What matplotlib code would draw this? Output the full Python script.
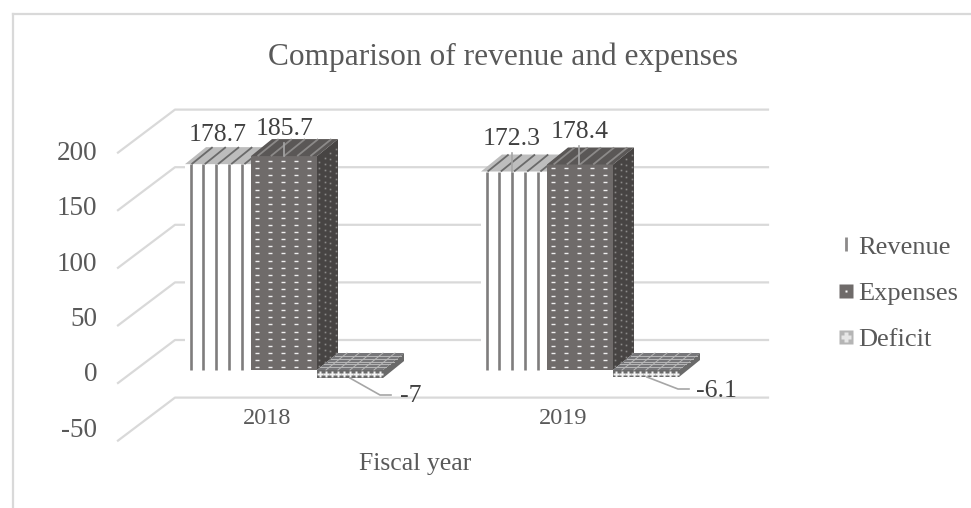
import numpy as np
import matplotlib
matplotlib.use('Agg')
import matplotlib.pyplot as plt
from matplotlib.lines import Line2D
from matplotlib.patches import Polygon, Rectangle
from matplotlib.legend_handler import HandlerTuple

plt.rcParams['font.family'] = ['Liberation Serif', 'DejaVu Serif']

years = ['2018', '2019']
series = ['Revenue', 'Expenses', 'Deficit']
revenue = [178.7, 172.3]
expenses = [185.7, 178.4]
deficit = [-7, -6.1]
y_ticks = [200, 150, 100, 50, 0, -50]

TXT = '#595959'
LBL = '#404040'
GRID = '#d9d9d9'
W, H = 971, 508

fig = plt.figure(figsize=(9.71, 5.08), dpi=100)
ax = fig.add_axes([0, 0, 1, 1])
# 1 category = 296 px, 1 unit of value = 1.152 px, zero of the bars at pixel row 370
PX = 1 / 296
PY = 1 / 1.152
ax.set_xlim(-284 * PX, (W - 284) * PX)
ax.set_ylim(-(H - 370) * PY, 370 * PY)
ax.axis('off')

BAR_W = 66 * PX
DX, DY = 21 * PX, 17 * PY


def box(x0, v0, v1, front, top, side, z=3):
    # pseudo 3d column, v1 is the upper edge
    x1 = x0 + BAR_W
    ax.add_patch(Rectangle((x0, v0), BAR_W, v1 - v0, fc=front, ec='none', zorder=z))
    ax.add_patch(Polygon([(x0, v1), (x0 + DX, v1 + DY), (x1 + DX, v1 + DY), (x1, v1)],
                         fc=top, ec='none', zorder=z))
    ax.add_patch(Polygon([(x1, v0), (x1 + DX, v0 + DY), (x1 + DX, v1 + DY), (x1, v1)],
                         fc=side, ec='none', zorder=z))


def top_stripes(x0, v, color, n, z=3.1):
    xs = x0 + (np.arange(n) + 0.5) * BAR_W / n
    for x in xs:
        ax.plot([x, x + DX], [v, v + DY], color=color, lw=1.3, zorder=z, solid_capstyle='butt')


# frame
ax.plot([(13 - 284) * PX] * 2, [-(H - 370) * PY, (370 - 14) * PY], color=GRID, lw=1.6)
ax.plot([(13 - 284) * PX, (W - 284) * PX], [(370 - 14) * PY] * 2, color=GRID, lw=1.6)

# walls
for v in y_ticks:
    back = v + (370 - 340) * PY
    front = v + (370 - 383) * PY
    xl = (118 - 284) * PX
    xk = (175 - 284) * PX
    xr = (768 - 284) * PX
    ax.plot([xl, xk, xr], [front, back, back], color=GRID, lw=1.6, zorder=1)
    ax.text((97 - 284) * PX, v * 0.962 - 4.3, str(v), ha='right', va='center',
            fontsize=19.5, color=TXT)

for i, year in enumerate(years):
    # revenue
    x0 = i - 1.5 * BAR_W
    box(x0, 0, revenue[i], 'white', '#bdbdbd', '#bdbdbd', z=3)
    for k in range(5):
        ax.plot([x0 + (5.5 + 12.8 * k) * PX] * 2, [0, revenue[i]], color='#7f7d7d', lw=1.9,
                zorder=3.1, solid_capstyle='butt')
    top_stripes(x0, revenue[i], '#6a6a6a', 5)

    # expenses
    x1 = i - 0.5 * BAR_W
    box(x1, 0, expenses[i], '#6f6b6a', '#5a5756', '#474443', z=4)
    top_stripes(x1, expenses[i], '#8c8a89', 5, z=4.1)
    cols = x1 + (6 + np.arange(5) * 12.9) * PX
    rows = np.arange(3 * PY, expenses[i] - 2 * PY, 7.1 * PY)
    xx, yy = np.meshgrid(cols, rows)
    ax.plot(xx.ravel(), yy.ravel(), ls='', marker='_', ms=2.3, mew=1.0, color='#efefef', zorder=4.2)
    # dots on the side
    t = np.linspace(0.1, 0.9, 4)
    rows2 = np.arange(2 * PY, expenses[i] - 2 * PY, 6 * PY)
    for f in t:
        ax.plot(x1 + BAR_W + f * DX + 0 * rows2, rows2 + f * DY, ls='', marker='s', ms=1.2,
                mfc='#8c8a89', mec='none', zorder=4.2)

    # deficit
    x2 = i + 0.5 * BAR_W
    box(x2, deficit[i], 0, '#6a6a6a', '#77777a', '#6a6a6a', z=5)
    cols3 = x2 + (np.arange(11) + 0.5) * BAR_W / 11
    ax.plot(cols3, [deficit[i] / 2] * 11, ls='', marker='P', ms=4.6, mfc='#f4f4f4', mec='none',
            zorder=5.1)
    for f in np.linspace(0.15, 0.85, 5):
        ax.plot([x2 + f * DX, x2 + BAR_W + f * DX], [f * DY, f * DY], color='#b8b8b8', lw=0.7, zorder=5.1)
    for c in cols3[1::2]:
        ax.plot([c, c + DX], [0, DY], color='#b8b8b8', lw=0.7, zorder=5.1)

    ax.text(i - 17 * PX, (370 - 418) * PY, year, ha='center', va='center', fontsize=17.5, color=TXT)

# data labels
ax.text(-66 * PX, revenue[0] + 29 * PY, '178.7', ha='center', va='center', fontsize=18.5, color=LBL, zorder=7)
ax.text(0.5 * PX, expenses[0] + 27 * PY, '185.7', ha='center', va='center', fontsize=18.5, color=LBL, zorder=7)
ax.text(1 - 68 * PX, revenue[1] + 33 * PY, '172.3', ha='center', va='center', fontsize=18.5, color=LBL, zorder=7)
ax.text(1, expenses[1] + 32 * PY, '178.4', ha='center', va='center', fontsize=18.5, color=LBL, zorder=7)
ax.text(1 + 136.5 * PX, -21 * PY, '-6.1', ha='center', va='center', fontsize=18.5, color=LBL, zorder=7)
ax.text(127 * PX, -26 * PY, '-7', ha='center', va='center', fontsize=18.5, color=LBL, zorder=7)

# leader lines
ax.plot([0, 0], [expenses[0], expenses[0] + 13 * PY], color='#a6a6a6', lw=1.2, zorder=6)
ax.plot([1 - 68 * PX] * 2, [revenue[1], revenue[1] + 19 * PY], color='#a6a6a6', lw=1.2, zorder=6)
ax.plot([1 - 1 * PX] * 2, [expenses[1], expenses[1] + 18 * PY], color='#a6a6a6', lw=1.2, zorder=6)
ax.plot([66 * PX, 96 * PX, 107 * PX], [deficit[0], -25 * PY, -25 * PY], color='#a6a6a6', lw=1.2, zorder=6)
ax.plot([1 + 67 * PX, 1 + 98 * PX, 1 + 109 * PX], [deficit[1], -19 * PY, -19 * PY], color='#a6a6a6', lw=1.2, zorder=6)

ax.text((503 - 284) * PX, (370 - 57) * PY, 'Comparison of revenue and expenses', ha='center', va='center',
        fontsize=22.6, color=TXT)
ax.text((415 - 284) * PX, (370 - 464) * PY, 'Fiscal year', ha='center', va='center', fontsize=18.5, color=TXT)

handles = [
    Line2D([], [], ls='', marker='|', ms=10, mew=2, color='#8c8a8a'),
    (Line2D([], [], ls='', marker='s', ms=10.5, color='#6f6b6a', mec='none'),
     Line2D([], [], ls='', marker='s', ms=2, color='white', mec='none')),
    (Line2D([], [], ls='', marker='s', ms=10.5, color='#b5b5b5', mec='none'),
     Line2D([], [], ls='', marker='P', ms=7, color='#e6e6e6', mec='none')),
]
ax.legend(handles, series, handler_map={tuple: HandlerTuple(ndivide=1, pad=0)}, frameon=False,
          loc='center left', bbox_to_anchor=(838 / W, 1 - 293 / H), borderaxespad=0, borderpad=0,
          fontsize=19, labelcolor=TXT, labelspacing=0.86, handlelength=0.6, handletextpad=0.15)

fig.savefig('out.png', dpi=100)
